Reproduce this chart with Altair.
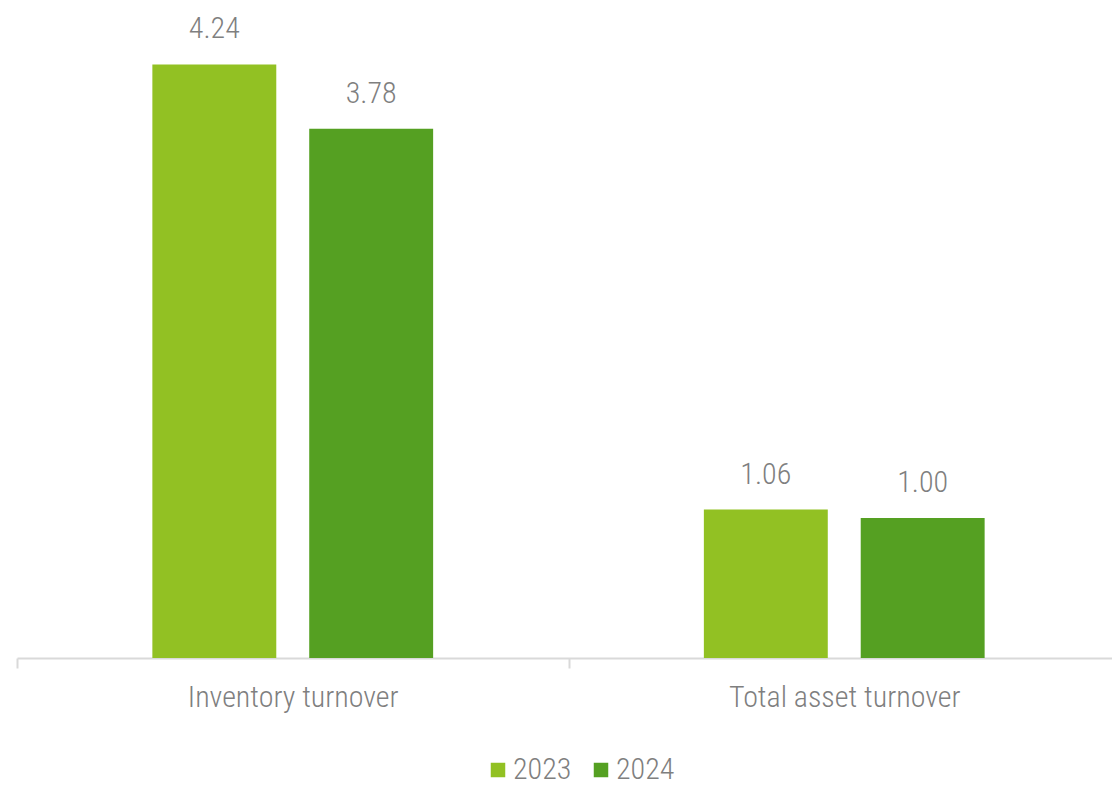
import altair as alt
import pandas as pd

categories = ["Inventory turnover", "Total asset turnover"]
years = ["2023", "2024"]
values_2023 = [4.24, 1.06]
values_2024 = [3.78, 1.00]
colors = ["#92C123", "#55A022"]

rows = []
for i, c in enumerate(categories):
    rows.append({"category": c, "year": years[0], "value": values_2023[i]})
    rows.append({"category": c, "year": years[1], "value": values_2024[i]})
df = pd.DataFrame(rows)

FONT = "Roboto Condensed, Liberation Sans Narrow, DejaVu Sans Condensed, Roboto, sans-serif"

x = alt.X(
    "category:N",
    sort=categories,
    title=None,
    scale=alt.Scale(range=[0, 1103], paddingInner=0, paddingOuter=0),
    axis=alt.Axis(
        labelAngle=0,
        labelFont=FONT,
        labelFontSize=30,
        labelColor="#7F7F7F",
        labelFontWeight=300,
        labelPadding=14,
        labelLimit=0,
        domainColor="#D9D9D9",
        domainWidth=2,
        tickColor="#D9D9D9",
        tickWidth=2,
        tickSize=10,
        tickBand="extent",
    ),
)
xoff = alt.XOffset("year:N", sort=years, scale=alt.Scale(paddingInner=0.21, paddingOuter=0.863))
y = alt.Y("value:Q", scale=alt.Scale(domain=[0, 4.5], nice=False), axis=None)

base = alt.Chart(df).encode(x=x, xOffset=xoff, y=y)

bars = base.mark_bar().encode(
    color=alt.Color(
        "year:N",
        sort=years,
        scale=alt.Scale(domain=years, range=colors),
        legend=alt.Legend(
            title=None,
            orient="none",
            legendX=466,
            legendY=727,
            padding=0,
            direction="horizontal",
            symbolType="square",
            symbolSize=210,
            symbolStrokeWidth=0,
            labelFont=FONT,
            labelFontSize=30,
            labelFontWeight=300,
            labelColor="#7F7F7F",
            labelOffset=0,
            columnPadding=14,
        ),
    )
)

labels = base.mark_text(
    baseline="alphabetic",
    dy=-26,
    font=FONT,
    fontSize=30,
    fontWeight=300,
    color="#7F7F7F",
).encode(text=alt.Text("value:Q", format=".2f"))

chart = (
    alt.layer(bars, labels)
    .properties(
        width=1095,
        height=630,
        autosize=alt.AutoSizeParams(type="none"),
        padding={"left": 17, "top": 28, "right": 0, "bottom": 127},
        background="white",
    )
    .configure_view(stroke=None)
)

chart.save("out.html", embed_options={"renderer": "svg", "actions": False})
